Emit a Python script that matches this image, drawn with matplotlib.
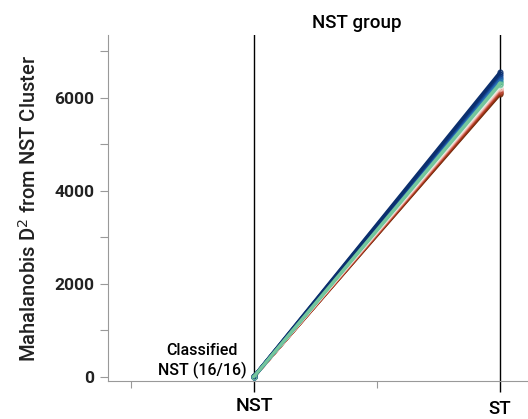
import matplotlib.pyplot as plt
import numpy as np

plt.rcParams['font.family'] = ['Roboto', 'DejaVu Sans']

# 16 NST-group samples: Mahalanobis D^2 from the NST cluster and from the ST cluster
groups = ["NST", "ST"]
d2_nst = [12, 10, 9, 8, 11, 7, 6, 9, 10, 8, 7, 6, 5, 8, 9, 14]
d2_st = [6550, 6510, 6480, 6440, 6400, 6370, 6340, 6310,
         6290, 6260, 6220, 6190, 6160, 6130, 6100, 6080]
colors = ["#0b2f6e", "#123f8a", "#1d57a3", "#2a6fb5", "#2f8fb0", "#3aa59a",
          "#43b07a", "#74c69d", "#a8dcc0", "#eef2ea", "#f3c9c0", "#e38a7e",
          "#c44e3d", "#a6361c", "#86300f", "#6a2a0c"]

fig = plt.figure(figsize=(5.28, 4.19), dpi=100)
ax = fig.add_axes([0.2045, 0.0907, 0.7955, 0.8258])

x = np.arange(len(groups))
for i in range(len(d2_nst) - 1, -1, -1):
    ax.plot(x, [d2_nst[i], d2_st[i]], color=colors[i], lw=2.4,
            marker='o', ms=3.5, mfc='none', mew=0.8, zorder=3)
# green sample drawn last, it sits on top at the NST end
ax.plot(x, [d2_nst[7], d2_st[7]], color=colors[7], lw=2.4, zorder=4,
        marker='o', ms=3.5, mfc='none', mew=0.8)

for xi in x:
    ax.axvline(xi, color='black', lw=1, zorder=2)

ax.set_xlim(-0.593, 1.114)
ax.set_ylim(-86, 7355)

ax.set_yticks([0, 2000, 4000, 6000])
ax.set_yticks([1000, 3000, 5000, 7000], minor=True)
ax.set_xticks([0, 1])
ax.set_xticks([-0.5, 0.5], minor=True)
ax.set_xticklabels([])

ax.tick_params(axis='y', which='both', length=6, color='#999999', width=0.8,
               labelsize=12.5, pad=4, labelcolor='#222222')
ax.tick_params(axis='x', which='major', length=8, color='black', width=1)
ax.tick_params(axis='x', which='minor', length=5, color='#999999', width=0.8)
for lbl in ax.get_yticklabels():
    lbl.set_fontweight('bold')

for s in ['top', 'right']:
    ax.spines[s].set_visible(False)
ax.spines['left'].set_color('#999999')
ax.spines['bottom'].set_color('#999999')

ax.set_ylabel('Mahalanobis D$^2$ from NST Cluster', fontsize=14.5, labelpad=10,
              fontweight='medium', color='#222222')

ax.text(0, -0.072, groups[0], transform=ax.get_xaxis_transform(),
        ha='center', va='center', fontsize=14, fontweight='medium')
ax.text(1, -0.08, groups[1], transform=ax.get_xaxis_transform(),
        ha='center', va='center', fontsize=13.5, fontweight='medium')
ax.text(0.42, 1.035, 'NST group', transform=ax.get_xaxis_transform(),
        ha='center', va='center', fontsize=13.5, fontweight='medium')
ax.text(-0.21, 350, 'Classified\nNST (16/16)', ha='center', va='center',
        fontsize=11.5, fontweight='medium', linespacing=1.3)

fig.savefig('out.png', dpi=100)
